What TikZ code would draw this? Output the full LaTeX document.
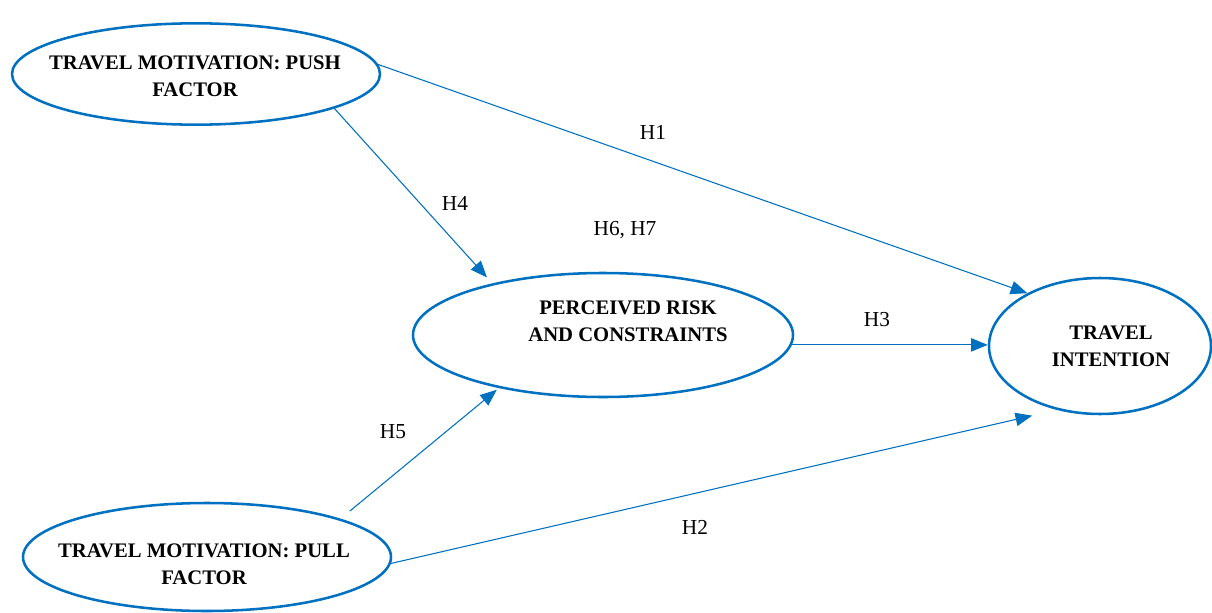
\documentclass[tikz,border=0pt]{standalone}
\usepackage{fontspec}
\setmainfont{Liberation Serif}
\usetikzlibrary{shapes.geometric,arrows.meta}
\definecolor{myblue}{HTML}{0070C0}
\begin{document}
\begin{tikzpicture}[x=0.75pt,y=-0.75pt,
  ell/.style={ellipse, draw=myblue, line width=1.9pt, inner sep=0pt},
  lbl/.style={font=\fontsize{15.5}{20}\selectfont\bfseries, align=center, inner sep=0pt},
  hyp/.style={font=\fontsize{16}{19}\selectfont, inner sep=0pt},
  conn/.style={draw=myblue, line width=0.8pt, -{Triangle[length=12.5pt,width=10pt]}}]
\useasboundingbox (0,0) rectangle (1212,613);
% ellipses
\node[ell, minimum width=276pt, minimum height=76pt] (push) at (196,74) {};
\node[ell, minimum width=285pt, minimum height=93pt] (per) at (603,335) {};
\node[ell, minimum width=166.5pt, minimum height=102pt] (ti) at (1100,346) {};
\node[ell, minimum width=276pt, minimum height=81pt] (pull) at (207,557) {};
% texts
\node[lbl] (pusht) at (195,76) {TRAVEL MOTIVATION: PUSH\\FACTOR};
\node[lbl] (pert) at (628,321) {PERCEIVED RISK\\AND CONSTRAINTS};
\node[lbl] (tit) at (1111,346) {TRAVEL\\INTENTION};
\node[lbl] (pullt) at (204,564) {TRAVEL MOTIVATION: PULL\\FACTOR};
% connectors
\draw[conn] (push.3) -- (ti.144);
\draw[conn, shorten >=6pt] (push.-14) -- (per.155);
\draw[conn] (per.-3) -- (per.-3 -| ti.west);
\draw[conn, shorten <=9pt, shorten >=2pt] (pull.16) -- (per.207);
\draw[conn, shorten >=19pt] (pull.-2) -- (ti.236);
% labels
\node[hyp] (h1) at (653,132) {H1};
\node[hyp] (h4) at (455,203) {H4};
\node[hyp] (h67) at (625,230) {H6, H7};
\node[hyp] (h3) at (877,320) {H3};
\node[hyp] (h5) at (393,432) {H5};
\node[hyp] (h2) at (695,527) {H2};
\end{tikzpicture}
\end{document}
